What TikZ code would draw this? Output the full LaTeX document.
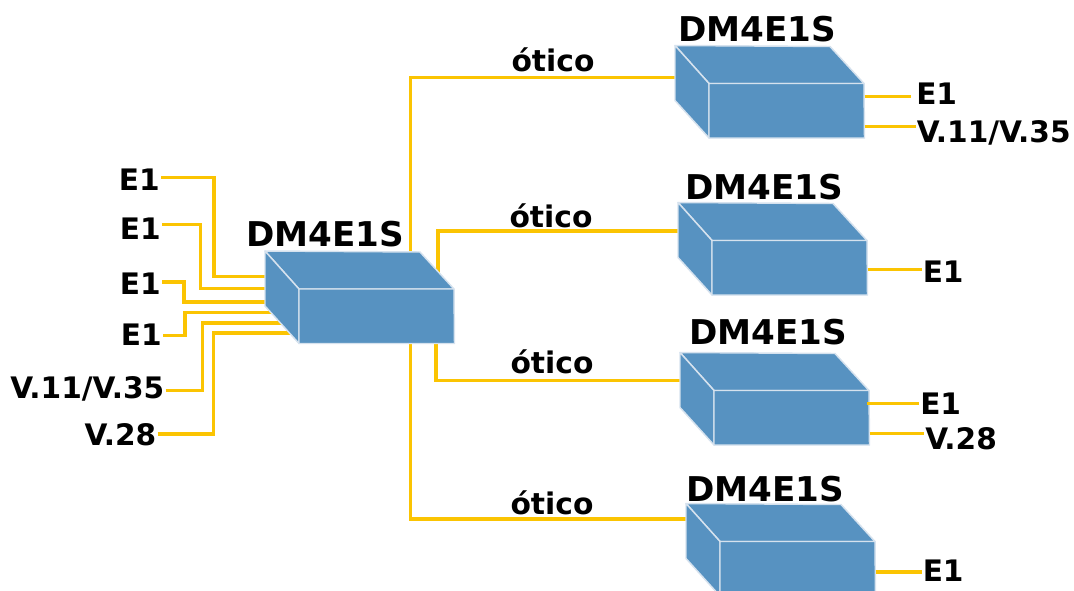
\documentclass[tikz,border=0pt]{standalone}
\usepackage{fontspec}
\setmainfont{DejaVu Sans}
\usetikzlibrary{backgrounds}

\definecolor{boxblue}{HTML}{5792C1}
\definecolor{boxedge}{HTML}{D6E2EE}
\definecolor{linkyellow}{HTML}{FBC402}

\tikzset{
	pics/dmbox/.style = {code = {
		\draw[draw = boxedge, fill = boxblue, line width = 1.1pt, line join = round]
			(0,0) -- (155,1) -- (189,38) -- (34,38) -- cycle;
		\draw[draw = boxedge, fill = boxblue, line width = 1.1pt, line join = round]
			(0,0) -- (34,38) -- (34,92.5) -- (0,55) -- cycle;
		\draw[draw = boxedge, fill = boxblue, line width = 1.1pt, line join = round]
			(34,38) -- (189,38) -- (189.5,92.5) -- (34,92.5) -- cycle;
		\coordinate (-west) at (2,30);
		\coordinate (-east) at (189.5,30);
		\coordinate (-mid) at (100,45);
	}}
}

\begin{document}
\begin{tikzpicture}[x = 0.75pt, y = -0.75pt]
		\tikzstyle{every node} = [inner sep = 0.75pt, font = \bfseries]
		\tikzstyle{link} = [draw = linkyellow, line width = 2.4pt]
		\tikzstyle{boxname} = [anchor = base, font = \fontsize{25.6}{28}\selectfont\bfseries]
		\tikzstyle{portname} = [font = \fontsize{22.2}{24}\selectfont\bfseries]
		\tikzstyle{mediumname} = [anchor = base, font = \fontsize{22.3}{24}\selectfont\bfseries]

\useasboundingbox (0,0) rectangle (1074,590);

% Equipamentos
\pic (hub) at (265,251) {dmbox};
\pic (boxa) at (675,45.5) {dmbox};
\pic (boxb) at (678,202.5) {dmbox};
\pic (boxc) at (680,352.5) {dmbox};
\pic (boxd) at (686,503.5) {dmbox};

% Nomes
\node[boxname] (hubname) at (325,246) {DM4E1S};
\node[boxname] (boxaname) at (757,41) {DM4E1S};
\node[boxname] (boxbname) at (764,199) {DM4E1S};
\node[boxname] (boxcname) at (768,344) {DM4E1S};
\node[boxname] (boxdname) at (765,501) {DM4E1S};

% Interfaces
\node[portname, anchor = base east] (hubea) at (161,190) {E1};
\node[portname, anchor = base east] (hubeb) at (162,239) {E1};
\node[portname, anchor = base east] (hubec) at (162,294) {E1};
\node[portname, anchor = base east] (hubed) at (163,345) {E1};
\node[portname, anchor = base east] (hubv) at (165.5,398) {V.11/V.35};
\node[portname, anchor = base east] (hubw) at (157.5,445) {V.28};
\node[portname, anchor = base west] (boxae) at (915,104) {E1};
\node[portname, anchor = base west] (boxav) at (915.5,142) {V.11/V.35};
\node[portname, anchor = base west] (boxbe) at (921.5,282) {E1};
\node[portname, anchor = base west] (boxce) at (919,414) {E1};
\node[portname, anchor = base west] (boxcw) at (924,449) {V.28};
\node[portname, anchor = base west] (boxde) at (921.5,581) {E1};

% Enlaces
\node[mediumname] (medioa) at (553,71) {ótico};
\node[mediumname] (mediob) at (551,227) {ótico};
\node[mediumname] (medioc) at (552,373) {ótico};
\node[mediumname] (mediod) at (552,514) {ótico};

\begin{pgfonlayer}{background}
	% Lado esquerdo
	\draw[link] (hubea.east |- 0,177.7) -| (214,276.5) -- (hub-mid |- 0,276.5);
	\draw[link] (hubeb.east |- 0,224.5) -| (200.5,288.7) -- (hub-mid |- 0,288.7);
	\draw[link] (hubec.east |- 0,282) -| (184,302) -- (hub-mid |- 0,302);
	\draw[link] (hubed.east |- 0,335.7) -| (185,312.3) -- (hub-mid |- 0,312.3);
	\draw[link] (hubv.east |- 0,390.7) -| (202.8,323) -- (hub-mid |- 0,323);
	\draw[link] (hubw.east |- 0,434) -| (213.8,333) -- (hub-mid |- 0,333);
	% Fibras
	\draw[link] (410.5,300) |- (boxa-west |- 0,77.5);
	\draw[link] (438,300) |- (boxb-west |- 0,231);
	\draw[link] (436,300) |- (boxc-west |- 0,380.5);
	\draw[link] (410.5,300) |- (boxd-west |- 0,519);
\end{pgfonlayer}

% Lado direito
\draw[link] (boxa-east |- 0,96.7) -- (911,96.7);
\draw[link] (boxa-east |- 0,126.3) -- (boxav.west |- 0,126.3);
\draw[link] (boxb-east |- 0,269.3) -- (boxbe.west |- 0,269.3);
\draw[link] (boxc-east |- 0,403.7) ++(-3,0) -- (boxce.west |- 0,403.7);
\draw[link] (boxc-east |- 0,433.7) -- (boxcw.west |- 0,433.7);
\draw[link] (boxd-east |- 0,572) -- (boxde.west |- 0,572);

	\end{tikzpicture}
\end{document}
